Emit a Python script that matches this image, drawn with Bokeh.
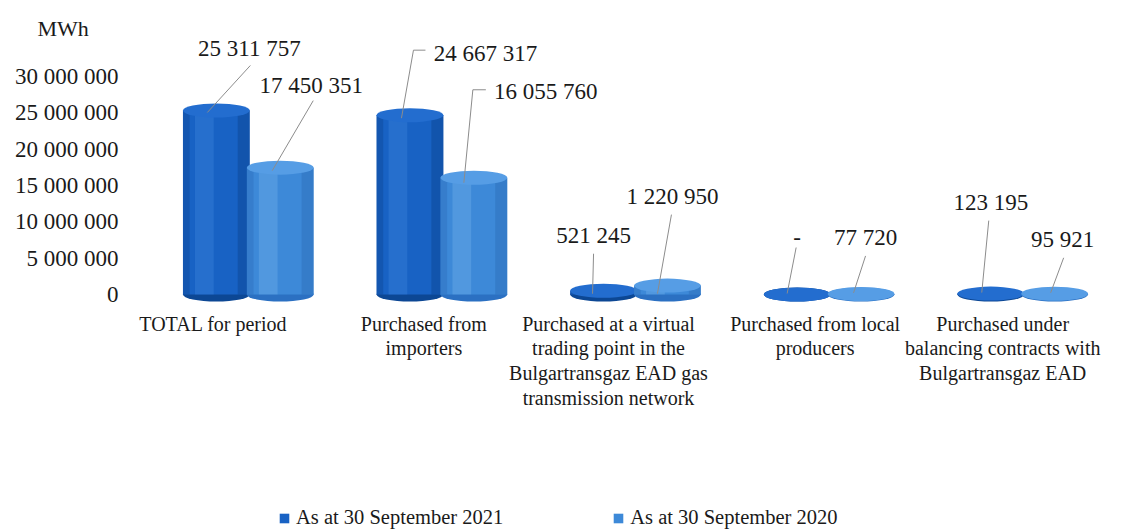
from bokeh.plotting import figure
from bokeh.layouts import column
from bokeh.models import Range1d, FixedTicker, ColumnDataSource, Legend, LegendItem
from bokeh.embed import file_html
from bokeh.resources import INLINE
from bokeh.core.properties import value

# ---------------- data ----------------
categories = [
    "TOTAL for period",
    "Purchased from\nimporters",
    "Purchased at a virtual\ntrading point in the\nBulgartransgaz EAD gas\ntransmission network",
    "Purchased from local\nproducers",
    "Purchased under\nbalancing contracts with\nBulgartransgaz EAD",
]
series_names = ["As at 30 September 2021", "As at 30 September 2020"]
values_2021 = [25311757, 24667317, 521245, 0, 123195]
values_2020 = [17450351, 16055760, 1220950, 77720, 95921]
labels_2021 = ["25 311 757", "24 667 317", "521 245", "-", "123 195"]
labels_2020 = ["17 450 351", "16 055 760", "1 220 950", "77 720", "95 921"]
y_ticks = [0, 5000000, 10000000, 15000000, 20000000, 25000000, 30000000]
y_tick_labels = ["0", "5 000 000", "10 000 000", "15 000 000", "20 000 000", "25 000 000", "30 000 000"]
unit_label = "MWh"

# ---------------- layout / style ----------------
W = 1138
H_MAIN, H_LEG = 503, 26
FL, FR, FT, FB = 151, 1119, 40, 310       # frame edges in px
ZERO_PX = 294                              # screen row of value 0
PX_PER_Y = 7.27e-6                         # px per MWh
X0, X1 = -0.5, 4.5
PX_PER_X = (FR - FL) / (X1 - X0)
Y1 = (ZERO_PX - FT) / PX_PER_Y
Y0 = -(FB - ZERO_PX) / PX_PER_Y

DODGE = 0.165
BAR_W = 0.345
CAP_H = 14
# perspective shift of category labels (px)
cat_label_shift = [-35, -18, -27, -14, -20]

SERIF = "'Liberation Serif', 'Times New Roman', 'DejaVu Serif', serif"

styles = [
    dict(body="#1862c4", top="#236dcf", bottom="#0c4794", hi="#4a92e6", sh="#0a3c80"),
    dict(body="#3d89d8", top="#569de5", bottom="#2b70c2", hi="#86c0f2", sh="#2764b0"),
]

label_off = [
    [(33, -62), (75.5, -62), (-10, -55), (0, -57), (0, -91)],
    [(31, -82), (72, -86), (5, -89), (4.5, -56), (8, -54)],
]
lead_start = [
    [[(1, 17)], [(-60, -3), (-72, -3)], [(0, 18)], [(-1, 10)], [(-2, 18)]],
    [[(2, 15)], [(-60, -2), (-73, -2)], [(-1, 18)], [(0, 18)], [(1, 18)]],
]
lead_end = [
    [(-9, 2), (-8.5, 3), (-11, 3), (-10, -1), (-9, -1)],
    [(-8, 3), (-10, 5), (-10, 8), (-7.5, -1), (-4, -1)],
]

p = figure(
    width=W, height=H_MAIN,
    x_range=Range1d(X0, X1), y_range=Range1d(Y0, Y1),
    output_backend="svg", toolbar_location=None,
    min_border_left=FL, min_border_right=W - FR,
    min_border_top=FT, min_border_bottom=H_MAIN - FB,
)
p.title.text = unit_label
p.title.align = "left"
p.title.offset = 37 - FL
p.title.standoff = 0
p.title.text_font = SERIF
p.title.text_font_size = "22px"
p.title.text_font_style = "normal"
p.title.text_color = "#1a1a1a"
p.xgrid.visible = False
p.ygrid.visible = False
p.outline_line_color = None
p.background_fill_color = "white"
p.border_fill_color = "white"

all_values = [values_2021, values_2020]
all_labels = [labels_2021, labels_2020]

for s, vals in enumerate(all_values):
    st = styles[s]
    off = -DODGE if s == 0 else DODGE
    xs = [i + off for i in range(len(categories))]
    src = ColumnDataSource(dict(x=xs, top=vals, zero=[0] * len(vals)))
    p.ellipse(x="x", y="zero", width=BAR_W, height=CAP_H, height_units="screen",
              source=src, fill_color=st["bottom"], line_color=None)
    p.vbar(x="x", top="top", bottom="zero", width=BAR_W, source=src,
           fill_color=st["body"], line_color=None)
    src_hi = ColumnDataSource(dict(x=[x - BAR_W * 0.18 for x in xs], top=vals, zero=[0] * len(vals)))
    p.vbar(x="x", top="top", bottom="zero", width=BAR_W * 0.28, source=src_hi,
           fill_color=st["hi"], fill_alpha=0.28, line_color=None)
    src_sh = ColumnDataSource(dict(x=[x + BAR_W * 0.41 for x in xs], top=vals, zero=[0] * len(vals)))
    p.vbar(x="x", top="top", bottom="zero", width=BAR_W * 0.18, source=src_sh,
           fill_color=st["sh"], fill_alpha=0.35, line_color=None)
    src_sl = ColumnDataSource(dict(x=[x - BAR_W * 0.45 for x in xs], top=vals, zero=[0] * len(vals)))
    p.vbar(x="x", top="top", bottom="zero", width=BAR_W * 0.10, source=src_sl,
           fill_color=st["sh"], fill_alpha=0.3, line_color=None)
    p.ellipse(x="x", y="top", width=BAR_W, height=CAP_H, height_units="screen",
              source=src, fill_color=st["top"], line_color=None)

lead_xs, lead_ys = [], []
tx, ty, tt, tox, toy = [], [], [], [], []
for s, (vals, labs) in enumerate(zip(all_values, all_labels)):
    off = -DODGE if s == 0 else DODGE
    for i, v in enumerate(vals):
        bx = i + off
        ox, oy = label_off[s][i]
        lx = bx + ox / PX_PER_X
        ly = v - oy / PX_PER_Y
        px_ = [lx + a / PX_PER_X for a, b in lead_start[s][i]]
        py_ = [ly - b / PX_PER_Y for a, b in lead_start[s][i]]
        ex, ey = lead_end[s][i]
        px_.append(bx + ex / PX_PER_X)
        py_.append(v - ey / PX_PER_Y)
        lead_xs.append(px_)
        lead_ys.append(py_)
        tx.append(bx); ty.append(v); tt.append(labs[i]); tox.append(ox); toy.append(oy)

p.multi_line(xs=lead_xs, ys=lead_ys, line_color="#8c8c8c", line_width=1)
p.text(x=tx, y=ty, text=tt, x_offset=tox, y_offset=toy,
       text_font=value(SERIF), text_font_size="23px", text_color="#1a1a1a",
       text_align="center", text_baseline="middle")

yax = p.yaxis[0]
yax.ticker = FixedTicker(ticks=y_ticks)
yax.major_label_overrides = {t: l for t, l in zip(y_ticks, y_tick_labels)}
yax.axis_line_color = None
yax.major_tick_line_color = None
yax.minor_tick_line_color = None
yax.major_tick_out = 0
yax.major_tick_in = 0
yax.major_label_standoff = 33
yax.major_label_text_font = SERIF
yax.major_label_text_font_size = "23px"
yax.major_label_text_color = "#1a1a1a"

x_ticks = [round(i + cat_label_shift[i] / PX_PER_X, 4) for i in range(len(categories))]
xax = p.xaxis[0]
xax.ticker = FixedTicker(ticks=x_ticks)
xax.major_label_overrides = {t: c for t, c in zip(x_ticks, categories)}
xax.axis_line_color = None
xax.major_tick_line_color = None
xax.minor_tick_line_color = None
xax.major_tick_out = 0
xax.major_tick_in = 0
xax.major_label_standoff = 2
xax.major_label_text_font = SERIF
xax.major_label_text_font_size = "20px"
xax.major_label_text_color = "#1a1a1a"
xax.major_label_text_line_height = 1.13

# ---------------- legend strip ----------------
pl = figure(
    width=W, height=H_LEG, x_range=Range1d(0, 1), y_range=Range1d(0, 1),
    output_backend="svg", toolbar_location=None,
    x_axis_type=None, y_axis_type=None,
    min_border_left=0, min_border_right=0, min_border_top=0, min_border_bottom=0,
)
pl.xgrid.visible = False
pl.ygrid.visible = False
pl.outline_line_color = None
pl.border_fill_color = "white"
leg_renderers = [
    pl.vbar(x=[0.5], top=[0], bottom=[0], width=0, fill_color=styles[k]["body"], line_color=None)
    for k in range(2)
]
legend = Legend(
    items=[LegendItem(label=series_names[k], renderers=[leg_renderers[k]]) for k in range(2)],
    location=(278 - FL, 0), orientation="horizontal",
    glyph_width=12, glyph_height=12, label_standoff=6, spacing=109,
    padding=0, margin=0, border_line_color=None, background_fill_alpha=0,
    label_text_font=SERIF, label_text_font_size="20.5px", label_text_color="#1a1a1a",
)
pl.add_layout(legend)

layout = column(p, pl, spacing=0)
open("out.html", "w").write(file_html(layout, INLINE))
